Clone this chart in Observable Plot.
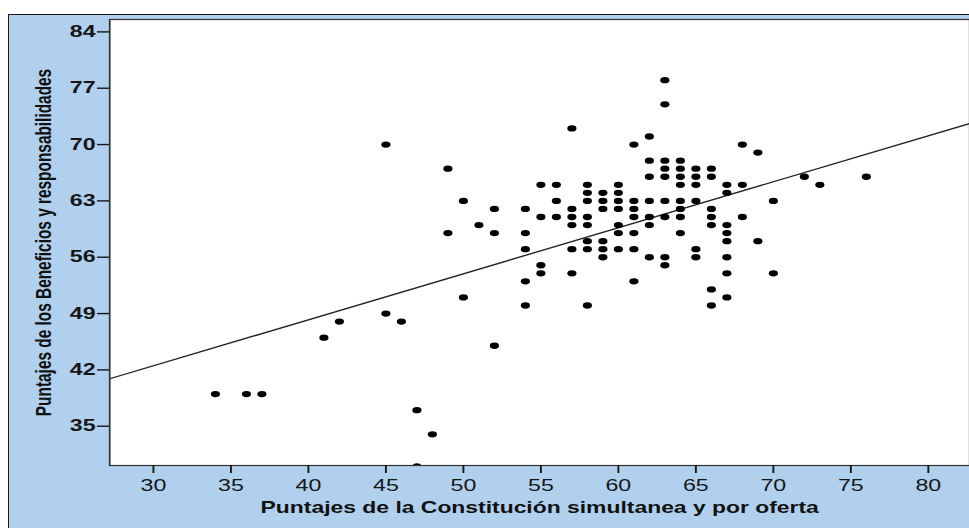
<!DOCTYPE html>
<html><head><meta charset="utf-8">
<script src="https://cdn.jsdelivr.net/npm/d3@7"></script>
<script src="https://cdn.jsdelivr.net/npm/@observablehq/plot@0.6"></script>
<style>
html,body{margin:0;padding:0;background:#fff;width:969px;height:528px;overflow:hidden;}
#panel{position:absolute;left:8px;top:14px;width:990px;height:540px;background:#b0d0ee;border-left:1.5px solid #1a1a1a;border-top:1.5px solid #1a1a1a;}
#chart{position:absolute;left:0;top:0;}
</style></head><body>
<div id="panel"></div><div id="chart"></div>
<script>
// Scores (x: Constitución simultanea y por oferta, y: Beneficios y responsabilidades)
const xValues = [
  45,49,50,49,51,50,45,42,46,41,34,36,37,47,48,47,52,
  52,52,
  54,54,54,54,54,
  55,55,55,55,
  56,56,56,
  57,57,57,57,57,57,
  58,58,58,58,58,58,58,58,
  59,59,59,59,59,59,
  60,60,60,60,60,60,60,
  61,61,61,61,61,61,61,
  62,62,62,62,62,62,62,
  63,63,63,63,63,63,63,63,63,
  64,64,64,64,64,64,64,64,
  65,65,65,65,65,65,
  66,66,66,66,66,66,66,
  67,67,67,67,67,67,67,67,
  68,68,68,
  69,69,
  70,70,
  72,73,76
];
const yValues = [
  70,67,63,59,60,51,49,48,48,46,39,39,39,37,34,30,45,
  62,59,
  62,59,57,53,50,
  65,61,55,54,
  65,63,61,
  72,62,61,60,57,54,
  65,64,63,61,60,58,57,50,
  64,63,62,58,57,56,
  65,64,63,62,60,59,57,
  70,63,62,61,59,57,53,
  71,68,66,63,61,60,56,
  78,75,68,67,66,63,61,56,55,
  68,67,66,65,63,62,61,59,
  67,66,65,63,57,56,
  67,66,62,61,60,52,50,
  65,64,60,59,58,56,54,51,
  70,65,61,
  69,58,
  63,54,
  66,65,66
];
const xTicks = [30,35,40,45,50,55,60,65,70,75,80];
const yTicks = [35,42,49,56,63,70,77,84];
const xTitle = "Puntajes de la Constitución simultanea y por oferta";
const yTitle = "Puntajes de los Beneficios y responsabilidades";
const fitIntercept = 25.36;
const fitSlope = 0.5717;
const xDomain = [27.18, 82.67];
const yDomain = [30.12, 85.54];

const S = 1.45;            // horizontal stretch of the original picture
const W = 969 / S;
const points = xValues.map((x, i) => ({x, y: yValues[i]}));
const fit = xDomain.map(x => ({x, y: fitIntercept + fitSlope * x}));
const font = '"Liberation Sans", Arial, sans-serif';

const svg = Plot.plot({
  width: W, height: 528,
  marginLeft: 109 / S, marginRight: 0, marginTop: 19, marginBottom: 63,
  x: {domain: xDomain, label: null},
  y: {domain: yDomain, label: null},
  style: {background: "transparent", fontFamily: font, color: "#161616"},
  marks: [
    Plot.frame({fill: "white"}),
    Plot.line(fit, {x: "x", y: "y", stroke: "#222", strokeWidth: 1.3, clip: true}),
    Plot.dot(points, {x: "x", y: "y", r: 3.15, fill: "#000", clip: true}),
    Plot.frame({stroke: "#333", strokeWidth: 1.2}),
    Plot.axisX(xTicks, {tickSize: 8, tickPadding: 6, fontSize: 16, fontWeight: 500, strokeWidth: 1.3, label: null}),
    Plot.axisY(yTicks, {tickSize: 8.3, tickPadding: 1.4, fontSize: 16, fontWeight: "bold", strokeWidth: 1.4, label: null}),
    Plot.text([xTitle], {frameAnchor: "bottom", dy: 47, text: d => d, fontSize: 15.8, fontWeight: "bold", fill: "#111"}),
    Plot.text([yTitle], {frameAnchor: "left", textAnchor: "middle", dx: -(109 - 42.7) / S, rotate: -90, text: d => d, fontSize: 15.4, fontWeight: "bold", fill: "#111"})
  ]
});
svg.setAttribute("preserveAspectRatio", "none");
svg.setAttribute("width", 969);
svg.setAttribute("height", 528);
svg.style.width = "969px";
svg.style.height = "528px";
svg.style.maxWidth = "none";
document.getElementById("chart").appendChild(svg);
</script>
</body></html>
